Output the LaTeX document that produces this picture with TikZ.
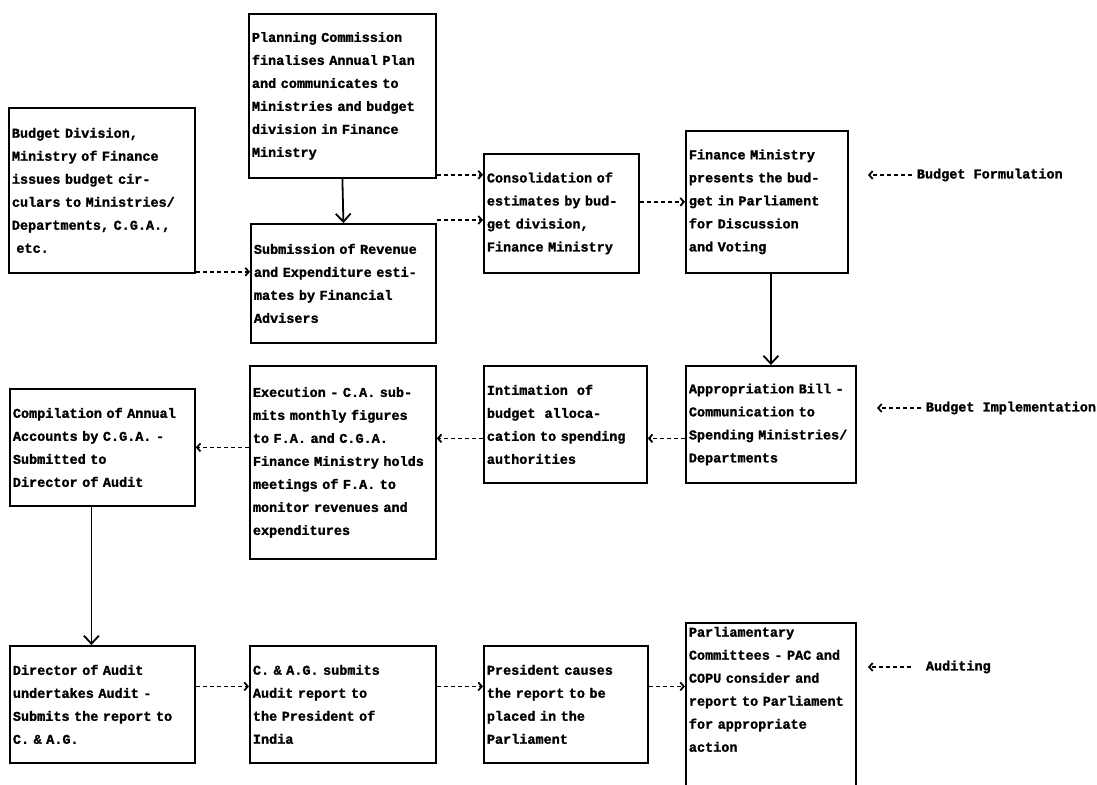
\documentclass[tikz,border=0pt]{standalone}
\usepackage{fontspec}
\setmonofont[BoldFeatures={FakeBold=1.5}]{Liberation Mono}
\usetikzlibrary{arrows.meta}

\begin{document}
\begin{tikzpicture}[x=1pt, y=-1pt, line width=1.8pt,
    box/.style={draw, anchor=north west, align=left, inner xsep=3pt, inner ysep=0pt,
                font=\ttfamily\bfseries\fontsize{13.5}{23}\selectfont},
    lbl/.style={anchor=west, inner sep=4pt, font=\ttfamily\bfseries\fontsize{13.5}{23}\selectfont},
    dasharrow/.style={dash pattern=on 4pt off 3pt, -{Straight Barb[length=3.5pt,width=8pt]}},
    solidarrow/.style={-{Straight Barb[length=8pt,width=15pt]}}]

  \useasboundingbox (0,0) rectangle (1097,784);

  % budget formulation
  \node[box, text width=180pt, minimum height=165pt] (div) at (8,107)
    {Budget Division,\\ Ministry of Finance\\ issues budget cir-\\ culars to Ministries/\\ Departments, C.G.A.,\\ ~etc.};
  \node[box, text width=181pt, minimum height=164pt] (plan) at (248,13)
    {Planning Commission\\ finalises Annual Plan\\ and communicates to\\ Ministries and budget\\ division in Finance\\ Ministry};
  \node[box, text width=179pt, minimum height=119pt] (sub) at (250,223)
    {Submission of Revenue\\ and Expenditure esti-\\ mates by Financial\\ Advisers};
  \node[box, text width=149pt, minimum height=119pt] (cons) at (483,153)
    {Consolidation of\\ estimates by bud-\\ get division,\\ Finance Ministry};
  \node[box, text width=156pt, minimum height=142pt] (fin) at (685,130)
    {Finance Ministry\\ presents the bud-\\ get in Parliament\\ for Discussion\\ and Voting};

  % budget implementation
  \node[box, text width=164pt, minimum height=117pt] (bill) at (685,365)
    {Appropriation Bill -\\ Communication to\\ Spending Ministries/\\ Departments};
  \node[box, text width=157pt, minimum height=117pt] (alloc) at (483,365)
    {Intimation~ of\\ budget~ alloca-\\ cation to spending\\ authorities};
  \node[box, text width=180pt, minimum height=193pt] (exec) at (249,365)
    {Execution - C.A. sub-\\ mits monthly figures\\ to F.A. and C.G.A.\\ Finance Ministry holds\\ meetings of F.A. to\\ monitor revenues and\\ expenditures};
  \node[box, text width=179pt, minimum height=117pt] (comp) at (9,388)
    {Compilation of Annual\\ Accounts by C.G.A. -\\ Submitted to\\ Director of Audit};

  % auditing
  \node[box, text width=179pt, minimum height=117pt] (dir) at (9,645)
    {Director of Audit\\ undertakes Audit -\\ Submits the report to\\ C. \& A.G.};
  \node[box, text width=180pt, minimum height=117pt] (cag) at (249,645)
    {C. \& A.G. submits\\ Audit report to\\ the President of\\ India};
  \node[box, text width=158pt, minimum height=117pt] (pres) at (483,645)
    {President causes\\ the report to be\\ placed in the\\ Parliament};
  \node[box, text width=164pt, inner ysep=4pt] (pac) at (685,622)
    {Parliamentary\\ Committees - PAC and\\ COPU consider and\\ report to Parliament\\ for appropriate\\ action\\ \mbox{}\\ \mbox{}};

  % stage labels
  \node[lbl] (formulation) at (912,175) {Budget Formulation};
  \node[lbl] (implementation) at (921,408) {Budget Implementation};
  \node[lbl] (auditing) at (921,667) {Auditing};
  \coordinate (tipF) at (868,175);
  \coordinate (tipI) at (877,408);
  \coordinate (tipA) at (868,667);

  \coordinate (pc1) at ([yshift=4pt]plan.south east);
  \coordinate (sc1) at ([yshift=3pt]sub.north east);
  \coordinate (dc1) at ([yshift=2pt]div.south east);
  \coordinate (bc1) at ([yshift=-14pt]bill.west);
  \coordinate (ac1) at ([yshift=-14pt]alloc.west);
  \coordinate (dr1) at ([yshift=18pt]dir.east);

  \path (pc1) edge[dasharrow] (pc1 -| cons.west)
        (sc1) edge[dasharrow] (sc1 -| cons.west)
        (cons.east |- fin.west) edge[dasharrow] (fin.west)
        (dc1) edge[dasharrow] (dc1 -| sub.west)
        (bc1) edge[dasharrow] (bc1 -| alloc.east)
        (ac1) edge[dasharrow] (ac1 -| exec.east)
        (exec.west |- comp.east) edge[dasharrow] (comp.east)
        (dr1) edge[dasharrow] (dr1 -| cag.west)
        (dr1 -| cag.east) edge[dasharrow] (dr1 -| pres.west)
        (dr1 -| pres.east) edge[dasharrow] (dr1 -| pac.west)
        (formulation.west) edge[dasharrow] (tipF)
        (implementation.west) edge[dasharrow] (tipI)
        ([xshift=-10pt]auditing.west) edge[dasharrow] (tipA);

  \path (plan.south) edge[solidarrow] (sub.north)
        (fin.south -| bill.north) edge[solidarrow] (bill.north)
        ([xshift=-11pt]comp.south) edge[solidarrow] ([xshift=-11pt]dir.north);

\end{tikzpicture}
\end{document}
